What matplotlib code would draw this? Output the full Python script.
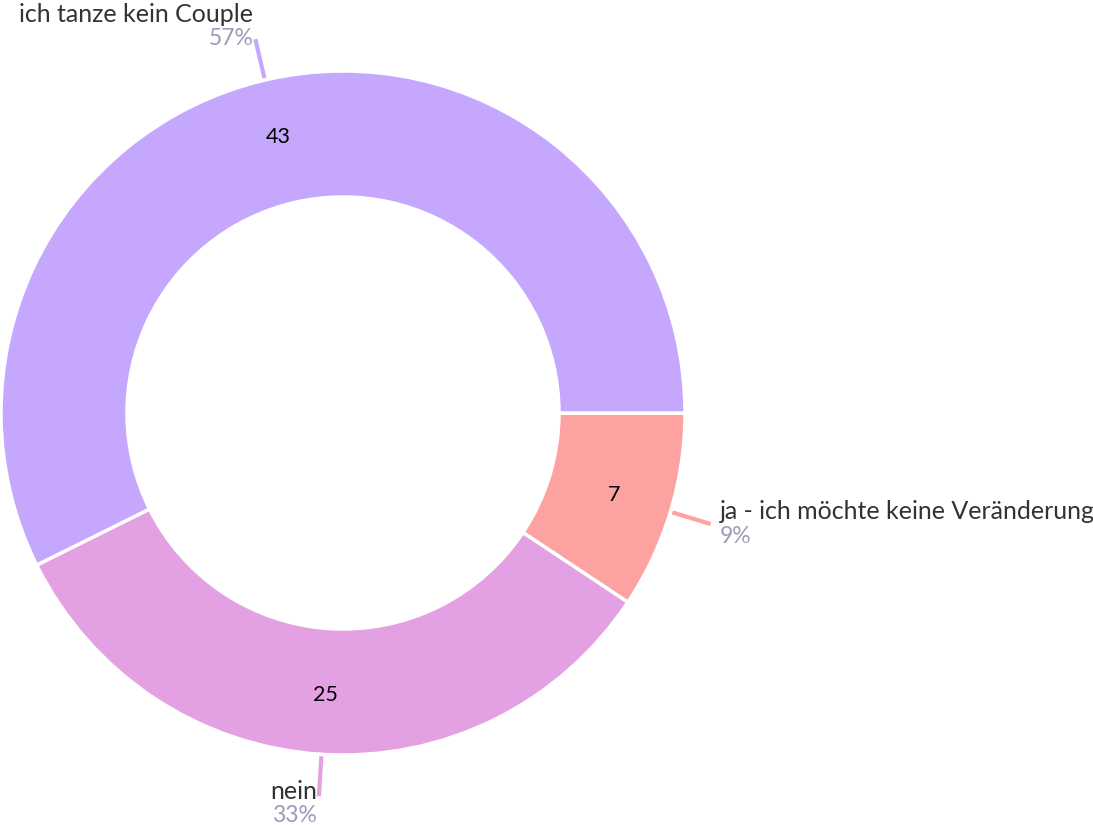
import numpy as np
import matplotlib
matplotlib.use("Agg")
import matplotlib.pyplot as plt

labels = ["ja - ich möchte keine Veränderung", "nein", "ich tanze kein Couple"]
values = [7, 25, 43]
colors = ["#fca3a2", "#e3a1e3", "#c5a8fe"]

plt.rcParams["font.family"] = ["Lato", "DejaVu Sans"]

W, H = 1093, 825
fig = plt.figure(figsize=(W / 100, H / 100), dpi=100)
ax = fig.add_axes([0, 0, 1, 1])

cx, cy = 343, H - 413
r_out, r_in = 342, 216

wedges, _ = ax.pie(values, colors=colors, startangle=0, counterclock=False,
                   radius=r_out, center=(cx, cy), frame=True,
                   wedgeprops=dict(width=r_out - r_in, edgecolor="white", linewidth=2.5))
ax.set_xlim(0, W)
ax.set_ylim(0, H)
ax.set_aspect("equal")
ax.axis("off")

total = sum(values)
for w, lab, v, c in zip(wedges, labels, values, colors):
    ang = np.deg2rad((w.theta1 + w.theta2) / 2)
    ca, sa = np.cos(ang), np.sin(ang)
    rm = 283
    ax.text(cx + rm * ca, cy + rm * sa, str(v), ha="center", va="center",
            fontsize=15.5, color="black")
    x0, y0 = cx + 344 * ca, cy + 344 * sa
    x1, y1 = cx + 384 * ca, cy + 384 * sa
    ax.plot([x0, x1], [y0, y1], color=c, lw=3, solid_capstyle="butt")
    yc = y1 + 3 + 10 * sa
    if ca >= 0:
        tx, ha = x1 + 9, "left"
    else:
        tx, ha = x1 - 2, "right"
    ax.text(tx, yc + 12, lab, ha=ha, va="center", fontsize=18, color="#333333")
    ax.text(tx, yc - 12.5, f"{round(v / total * 100)}%", ha=ha, va="center",
            fontsize=16.5, color="#9c9cba")

fig.savefig("out.png", dpi=100)
